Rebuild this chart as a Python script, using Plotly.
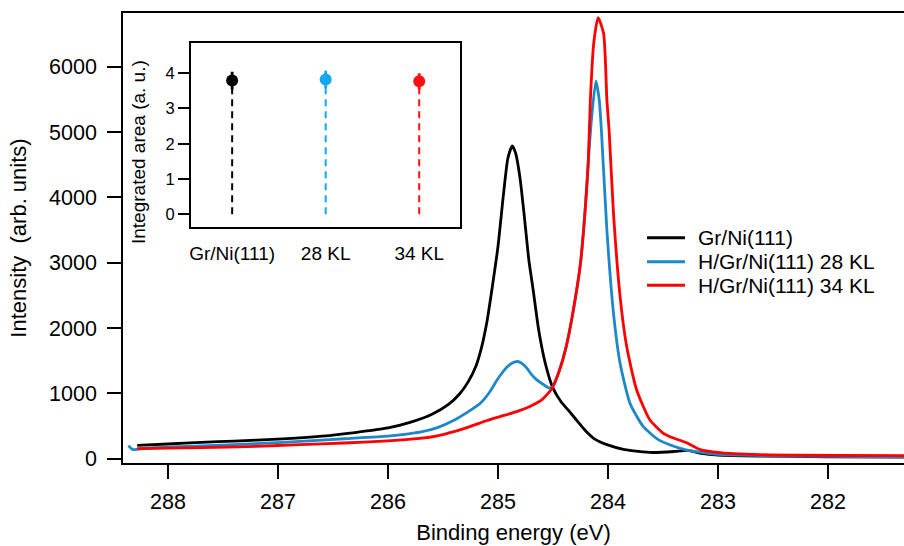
import plotly.graph_objects as go

# ---------------- main spectra ----------------
gr_energy = [288.28, 288.0, 287.7, 287.4, 287.0, 286.6, 286.3, 286.0, 285.8, 285.6,
             285.45, 285.35, 285.27, 285.20, 285.15, 285.10, 285.05, 285.00, 284.95, 284.91,
             284.87, 284.84, 284.80, 284.76, 284.72, 284.68, 284.63, 284.57, 284.50, 284.43,
             284.35, 284.28, 284.20, 284.12, 284.01, 283.85, 283.6, 283.4, 283.28, 283.15,
             283.0, 282.6, 282.0, 281.30]
gr_int = [203, 225, 250, 270, 300, 345, 400, 470, 555, 680,
          830, 990, 1180, 1420, 1700, 2100, 2650, 3250, 4050, 4600,
          4790, 4680, 4300, 3700, 3050, 2580, 1970, 1460, 1080, 880,
          720, 580, 420, 300, 215, 140, 95, 110, 127, 80,
          55, 40, 30, 25]

h28_energy = [288.36, 288.32, 288.2, 287.7, 287.2, 286.8, 286.4, 286.0, 285.85, 285.71,
              285.55, 285.41, 285.28, 285.16, 285.08, 285.01, 284.96, 284.92, 284.87, 284.82,
              284.78, 284.74, 284.70, 284.65, 284.60, 284.54, 284.50, 284.44, 284.38, 284.32,
              284.25, 284.21, 284.18, 284.15, 284.11, 284.08, 284.06, 284.01, 283.95, 283.89,
              283.80, 283.68, 283.55, 283.44, 283.3, 283.15, 283.0, 282.5, 282.0, 281.30]
h28_int = [200, 140, 160, 195, 230, 265, 305, 345, 372, 405,
           475, 580, 710, 850, 1010, 1200, 1320, 1400, 1465, 1488,
           1455, 1390, 1300, 1210, 1150, 1085, 1106, 1361, 1717, 2228,
           2992, 3757, 4521, 5200, 5780, 5500, 5030, 3500, 2230, 1460,
           850, 494, 300, 214, 140, 95, 65, 45, 35, 28]

h34_energy = [288.28, 287.7, 287.2, 286.8, 286.4, 286.04, 285.71, 285.55, 285.41, 285.25,
              285.10, 284.98, 284.86, 284.71, 284.60, 284.51, 284.44, 284.38, 284.32, 284.25,
              284.21, 284.18, 284.16, 284.13, 284.09, 284.04, 284.01, 283.99, 283.95, 283.89,
              283.83, 283.74, 283.62, 283.50, 283.44, 283.28, 283.16, 283.01, 282.62, 281.30]
h34_int = [153, 168, 190, 214, 240, 268, 310, 350, 410, 495,
           585, 645, 705, 800, 905, 1075, 1361, 1717, 2228, 2992,
           3757, 4521, 5500, 6356, 6754, 6509, 5489, 5031, 3757, 2482,
           1717, 1055, 596, 393, 341, 240, 138, 96, 61, 46]

series_names = ["Gr/Ni(111)", "H/Gr/Ni(111) 28 KL", "H/Gr/Ni(111) 34 KL"]
series_colors = ["#000000", "#1d88c9", "#ff0000"]

# ---------------- inset data ----------------
inset_labels = ["Gr/Ni(111)", "28 KL", "34 KL"]
inset_values = [3.79, 3.82, 3.77]
inset_errors = [0.25, 0.25, 0.23]
inset_colors = ["#000000", "#12a8f2", "#ff1010"]

FONT = "Liberation Sans, Arial, Helvetica, sans-serif"

# plot-area geometry (pixels) used for paper coordinates of the hand-made legend
L, R, T, B = 123, 904, 13, 463
def px(x):
    return (x - L) / (R - L)
def py(y):
    return (B - y) / (B - T)

fig = go.Figure()

for name, xs, ys, col in zip(series_names,
                             [gr_energy, h28_energy, h34_energy],
                             [gr_int, h28_int, h34_int],
                             series_colors):
    fig.add_trace(go.Scatter(x=xs, y=ys, mode="lines", name=name,
                             line=dict(color=col, width=2.8, shape="spline", smoothing=0.6),
                             xaxis="x", yaxis="y", showlegend=False))

# inset: dashed drop lines + points with error bars
for i, (lab, v, e, c) in enumerate(zip(inset_labels, inset_values, inset_errors, inset_colors)):
    fig.add_trace(go.Scatter(x=[i, i], y=[0, v], mode="lines",
                             line=dict(color=c, width=2, dash="7px,5px"),
                             showlegend=False, xaxis="x2", yaxis="y2", hoverinfo="skip"))
    fig.add_trace(go.Scatter(x=[i], y=[v], mode="markers",
                             marker=dict(color=c, size=12),
                             error_y=dict(type="data", array=[e], color=c, thickness=2.8, width=0),
                             showlegend=False, xaxis="x2", yaxis="y2"))

# legend (drawn by hand to match the compact row spacing)
legend_rows = [237.7, 261.7, 285.3]
shapes = []
annotations = []
for name, col, yrow in zip(series_names, series_colors, legend_rows):
    shapes.append(dict(type="line", xref="paper", yref="paper",
                       x0=px(647), x1=px(685), y0=py(yrow), y1=py(yrow),
                       line=dict(color=col, width=3)))
    annotations.append(dict(text=name, xref="paper", yref="paper", x=px(696), y=py(yrow),
                            xanchor="left", yanchor="middle", showarrow=False,
                            font=dict(size=21, color="black", family=FONT)))

# inset y-axis title (sits a little below the inset's centre in the reference)
annotations.append(dict(text="Integrated area (a. u.)", xref="paper", yref="paper",
                        x=px(138), y=py(152), xanchor="center", yanchor="middle",
                        textangle=-90, showarrow=False,
                        font=dict(size=19, color="black", family=FONT)))

axis_common = dict(showline=True, linecolor="black", linewidth=1.5, showgrid=False,
                   zeroline=False, ticks="outside", tickcolor="black", tickwidth=1.5)

fig.update_layout(
    width=904, height=546,
    margin=dict(l=L, r=904 - R, t=T, b=546 - B),
    paper_bgcolor="white", plot_bgcolor="white",
    font=dict(family=FONT, color="black", size=19),
    showlegend=False,
    shapes=shapes, annotations=annotations,
    xaxis=dict(**axis_common, range=[288.409, 281.309], mirror=True, ticklen=14,
               tickvals=[288, 287, 286, 285, 284, 283, 282],
               tickfont=dict(size=21.5), domain=[0, 1], anchor="y", ticklabelstandoff=4,
               title=dict(text="Binding energy (eV)", font=dict(size=22), standoff=12)),
    yaxis=dict(**axis_common, range=[-66, 6824], mirror=False, ticklen=14,
               tickvals=[0, 1000, 2000, 3000, 4000, 5000, 6000],
               tickfont=dict(size=21.5), domain=[0, 1], anchor="x", ticklabelstandoff=6,
               title=dict(text="Intensity\u00a0 (arb. units)", font=dict(size=22), standoff=16)),
    xaxis2=dict(showline=True, linecolor="black", linewidth=1.5, mirror=True, showgrid=False,
                zeroline=False, ticks="", range=[-0.443, 2.436],
                tickvals=[0, 1, 2], ticktext=inset_labels, tickfont=dict(size=19),
                domain=[px(190.7), px(460)], anchor="y2", ticklabelstandoff=8),
    yaxis2=dict(showline=True, linecolor="black", linewidth=1.5, mirror=True, showgrid=False,
                zeroline=False, ticks="outside", ticklen=11, tickwidth=1.5, tickcolor="black",
                range=[-0.36, 4.87], tickvals=[0, 1, 2, 3, 4], tickfont=dict(size=16.5),
                domain=[py(227), py(42.5)], anchor="x2"),
)

fig.write_html("out.html", config={"displayModeBar": False},
               post_script="document.body.style.margin='0';document.body.style.overflow='hidden';")
